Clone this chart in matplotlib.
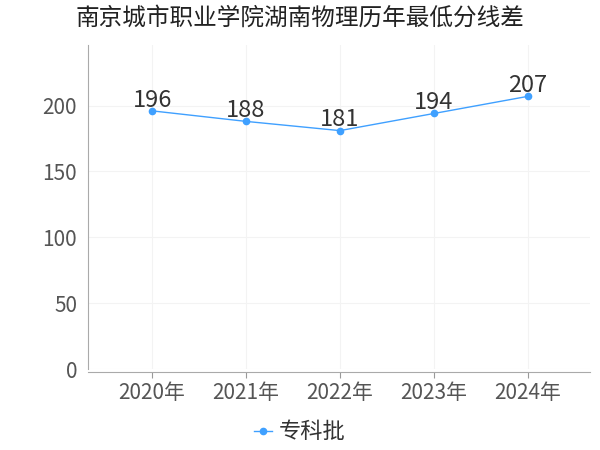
import matplotlib
matplotlib.use("Agg")
import matplotlib.pyplot as plt

plt.rcParams['font.family'] = ['Noto Sans CJK SC', 'DejaVu Sans']

# data
years = ["2020年", "2021年", "2022年", "2023年", "2024年"]
scores = [196, 188, 181, 194, 207]
series_name = "专科批"
title = "南京城市职业学院湖南物理历年最低分线差"

fig = plt.figure(figsize=(6, 4.5), dpi=100)
ax = fig.add_axes([0.147, 0.18, 0.836, 0.72])

x = list(range(len(years)))
ax.plot(x, scores, color="#3fa0ff", lw=1, marker="o", ms=4.5, label=series_name)
for xi, v in zip(x, scores):
    ax.text(xi, v - 0.5, str(v), ha="center", va="bottom", fontsize=17, color="#333333")

ax.set_xlim(-0.68, 4.66)
ax.set_ylim(0, 246)
ax.set_xticks(x)
ax.set_xticklabels(years)
ax.set_yticks([0, 50, 100, 150, 200])
ax.tick_params(axis="both", labelsize=15, colors="#999999", labelcolor="#555555", length=4)
ax.tick_params(axis="y", length=0, pad=8)
ax.grid(True, color="#f3f3f3", lw=0.8)

for s in ["top", "right"]:
    ax.spines[s].set_visible(False)
ax.spines["left"].set_color("#aaaaaa")
ax.spines["bottom"].set_color("#aaaaaa")
ax.spines["bottom"].set_position(("outward", 2))

fig.suptitle(title, x=0.5, y=0.985, fontsize=17, color="#222222")
fig.legend(loc="center", bbox_to_anchor=(0.5, 0.04), frameon=False,
           fontsize=16, handlelength=0.8, handletextpad=0.3, labelcolor="#333333")

fig.savefig("out.png", dpi=100)
